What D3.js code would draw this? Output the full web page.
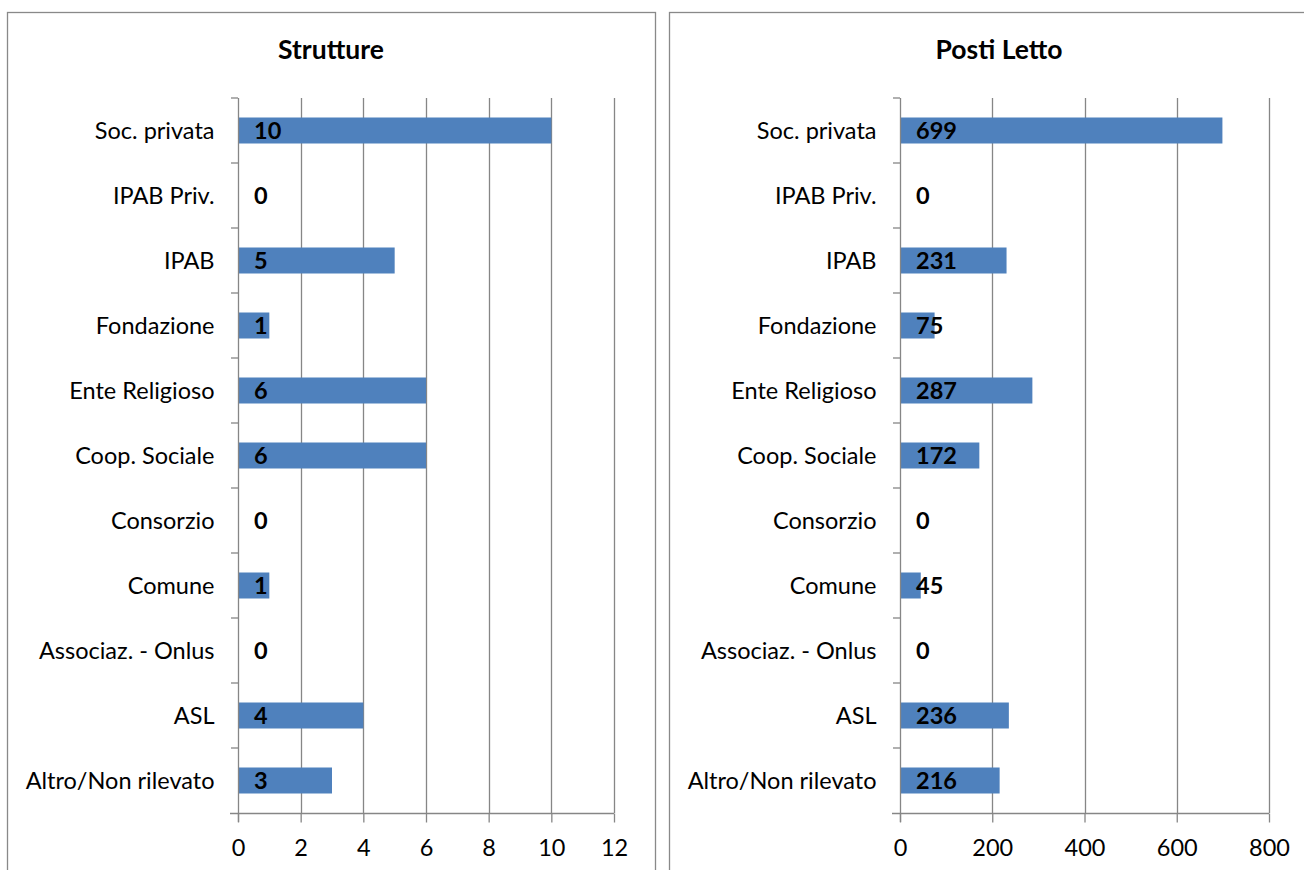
<!DOCTYPE html>
<html><head><meta charset="utf-8">
<script src="https://cdn.jsdelivr.net/npm/d3@7"></script>
<style>
html,body{margin:0;padding:0;background:#fff;}
svg{display:block;}
text{font-family:Lato, "Open Sans", sans-serif;fill:#000;}
</style></head>
<body>
<svg id="c" width="1304" height="870"></svg>
<script>
const categories = ["Soc. privata","IPAB Priv.","IPAB","Fondazione","Ente Religioso","Coop. Sociale","Consorzio","Comune","Associaz. - Onlus","ASL","Altro/Non rilevato"];
const strutture = [10,0,5,1,6,6,0,1,0,4,3];
const postiLetto = [699,0,231,75,287,172,0,45,0,236,216];
const struttureTicks = [0,2,4,6,8,10,12];
const postiTicks = [0,200,400,600,800];

const svg = d3.select("#c");
const grid = "#868686";
const FS = 23.5;

function panel(cfg){
  const g = svg.append("g");
  g.append("rect").attr("x",cfg.bx+0.5).attr("y",12.5).attr("width",cfg.bw).attr("height",900)
    .attr("fill","#fff").attr("stroke","#898989").attr("stroke-width",1.3);
  g.append("text").attr("x",cfg.bx+cfg.bw/2).attr("y",59).attr("text-anchor","middle")
    .attr("font-size",26.5).attr("font-weight","bold").text(cfg.title);
  const x = d3.scaleLinear().domain([0,cfg.max]).range([cfg.x0,cfg.x1]);
  const y = d3.scaleBand().domain(categories).range([98,813]).paddingInner(0.6).paddingOuter(0.3);
  const yb = d3.scaleBand().domain(categories).range([98,813]);
  // gridlines
  g.selectAll(".gl").data(cfg.ticks.slice(1)).enter().append("line")
    .attr("x1",d=>Math.round(x(d))+0.5).attr("x2",d=>Math.round(x(d))+0.5)
    .attr("y1",98).attr("y2",813).attr("stroke",grid).attr("stroke-width",1.3);
  // bars
  g.selectAll(".bar").data(cfg.values).enter().append("rect")
    .attr("x",x(0)).attr("y",(d,i)=>y(categories[i]))
    .attr("width",d=>x(d)-x(0)).attr("height",y.bandwidth()).attr("fill","#4F81BD");
  // x axis
  const xa = d3.axisBottom(x).tickValues(cfg.ticks).tickSize(9).tickSizeOuter(0).tickPadding(17);
  const gx = g.append("g").attr("transform","translate(0,813.5)").call(xa);
  gx.select(".domain").attr("d",`M${cfg.x0-8},0H${cfg.x1}`).attr("stroke",grid).attr("stroke-width",1.3);
  gx.selectAll(".tick line").attr("stroke",grid).attr("stroke-width",1.3);
  gx.selectAll(".tick text").attr("font-size",FS).attr("font-family","Lato, sans-serif").attr("fill","#000");
  // y axis
  const ya = d3.axisLeft(yb).tickSize(0).tickPadding(24);
  const gy = g.append("g").attr("transform",`translate(${Math.round(x(0))+0.5},0)`).call(ya);
  gy.select(".domain").attr("d","M0,98V822").attr("stroke",grid).attr("stroke-width",1.3);
  gy.selectAll(".tick text").attr("font-size",FS).attr("font-family","Lato, sans-serif").attr("fill","#000").attr("dy","0.34em");
  // category boundary ticks
  g.selectAll(".bt").data(d3.range(categories.length)).enter().append("line")
    .attr("x1",x(0)-7).attr("x2",x(0)).attr("y1",i=>yb(categories[i])).attr("y2",i=>yb(categories[i]))
    .attr("stroke",grid).attr("stroke-width",1.3);
  // labels
  g.selectAll(".lbl").data(cfg.values).enter().append("text")
    .attr("x",x(0)+16).attr("y",(d,i)=>y(categories[i])+y.bandwidth()/2).attr("dy","0.38em")
    .attr("font-size",FS).attr("font-weight","bold").text(d=>d);
}

panel({bx:7,bw:648,title:"Strutture",values:strutture,max:12,ticks:struttureTicks,x0:238,x1:614});
panel({bx:669,bw:660,title:"Posti Letto",values:postiLetto,max:800,ticks:postiTicks,x0:900,x1:1269});
</script>
</body></html>
